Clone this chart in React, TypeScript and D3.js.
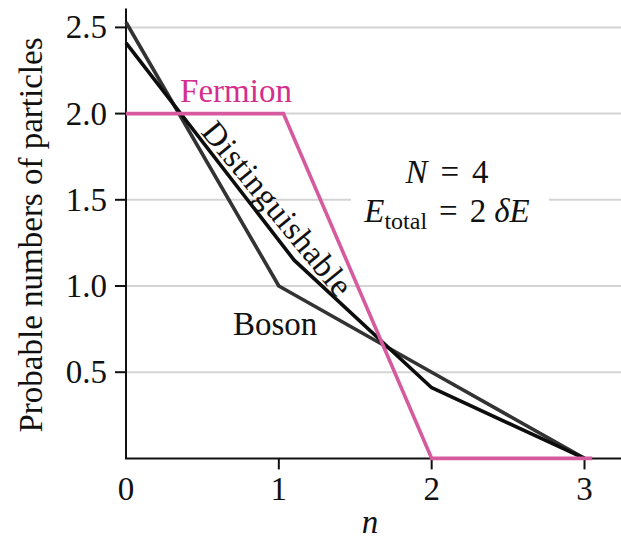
import React from "react";
import * as d3 from "d3";

const levels = [0, 1, 2, 3];
const yTicks = [0.5, 1.0, 1.5, 2.0, 2.5];

// values (n position, probable number)
const distinguishableN = [0, 1.1, 2.0, 3.0];
const distinguishableV = [2.41, 1.15, 0.41, 0];
const bosonN = [0, 1.0, 2.0, 3.0];
const bosonV = [2.53, 1.0, 0.5, 0];
const fermionN = [0, 1.03, 2.0, 3.05];
const fermionV = [2.0, 2.0, 0, 0];

const W = 621;
const H = 542;
const serif = "'Liberation Serif', 'Times New Roman', serif";
const PINK_LINE = "#d65a9e";
const PINK_TEXT = "#d42f8c";

export default function App() {
  const x = d3.scaleLinear().domain([0, 3]).range([126, 584.5]);
  const y = d3.scaleLinear().domain([0, 2.5]).range([458.4, 27.4]);
  const line = d3
    .line<[number, number]>()
    .x((d) => x(d[0]))
    .y((d) => y(d[1]));
  const pts = (ns: number[], vs: number[]) => ns.map((n, i) => [n, vs[i]] as [number, number]);

  const x0 = x(0);
  const yTop = y(2.61);
  const yBase = y(0);

  return (
    <svg
      width={W}
      height={H}
      viewBox={`0 0 ${W} ${H}`}
      style={{ position: "absolute", left: 0, top: 0, display: "block", background: "#fff" }}
      fontFamily={serif}
    >
      {/* gridlines */}
      {yTicks.map((t) => (
        <line key={"g" + t} x1={x0} x2={W} y1={y(t)} y2={y(t)} stroke="#d4d4d4" strokeWidth={2} />
      ))}
      {/* white box behind annotation */}
      <rect x={351} y={188} width={198} height={24} fill="#fff" />

      {/* axes */}
      <line x1={x0} x2={x0} y1={yTop} y2={yBase} stroke="#111" strokeWidth={2} />
      <line x1={x0 - 1} x2={W} y1={yBase} y2={yBase} stroke="#111" strokeWidth={2} />
      {yTicks.map((t) => (
        <g key={"yt" + t}>
          <line x1={x0 - 11} x2={x0} y1={y(t)} y2={y(t)} stroke="#111" strokeWidth={2} />
          <text x={107} y={y(t) + 11} textAnchor="end" fontSize={33} fill="#111">
            {t.toFixed(1)}
          </text>
        </g>
      ))}
      {levels.map((n) => (
        <g key={"xt" + n}>
          {n > 0 && <line x1={x(n)} x2={x(n)} y1={yBase} y2={yBase + 11} stroke="#111" strokeWidth={2} />}
          <text x={x(n)} y={500} textAnchor="middle" fontSize={33} fill="#111">
            {n}
          </text>
        </g>
      ))}

      {/* axis titles */}
      <text x={370} y={533} textAnchor="middle" fontSize={33} fontStyle="italic" fill="#111">
        n
      </text>
      <text
        transform={`translate(42,235) rotate(-90)`}
        textAnchor="middle"
        fontSize={33}
        fill="#111"
      >
        Probable numbers of particles
      </text>

      {/* series */}
      <path d={line(pts(bosonN, bosonV)) || ""} fill="none" stroke="#333" strokeWidth={3.6} strokeLinejoin="round" />
      <path
        d={line(pts(distinguishableN, distinguishableV)) || ""}
        fill="none"
        stroke="#0d0d0d"
        strokeWidth={3.6}
        strokeLinejoin="round"
      />
      <path d={line(pts(fermionN, fermionV)) || ""} fill="none" stroke={PINK_LINE} strokeWidth={3.6} strokeLinejoin="miter" />

      {/* series labels */}
      <text x={x(0.354)} y={y(2.07)} fontSize={33} fill={PINK_TEXT}>
        Fermion
      </text>
      <text x={x(0.70)} y={y(0.716)} fontSize={33} fill="#111">
        Boson
      </text>
      <text
        transform={`translate(${x(0.485)},${y(1.89)}) rotate(50.5)`}
        fontSize={33}
        fill="#111"
        letterSpacing={0.6}
      >
        Distinguishable
      </text>

      {/* annotation */}
      <text x={447} y={183} textAnchor="middle" fontSize={33} fill="#111">
        <tspan fontStyle="italic">N</tspan>
        <tspan dx={13}>=</tspan>
        <tspan dx={13}>4</tspan>
      </text>
      <text x={447} y={222} textAnchor="middle" fontSize={33} fill="#111">
        <tspan fontStyle="italic">E</tspan>
        <tspan fontSize={24} dy={7}>total</tspan>
        <tspan dy={-7} dx={12}>=</tspan>
        <tspan dx={12}>2</tspan>
        <tspan dx={8} fontStyle="italic">δE</tspan>
      </text>
    </svg>
  );
}
